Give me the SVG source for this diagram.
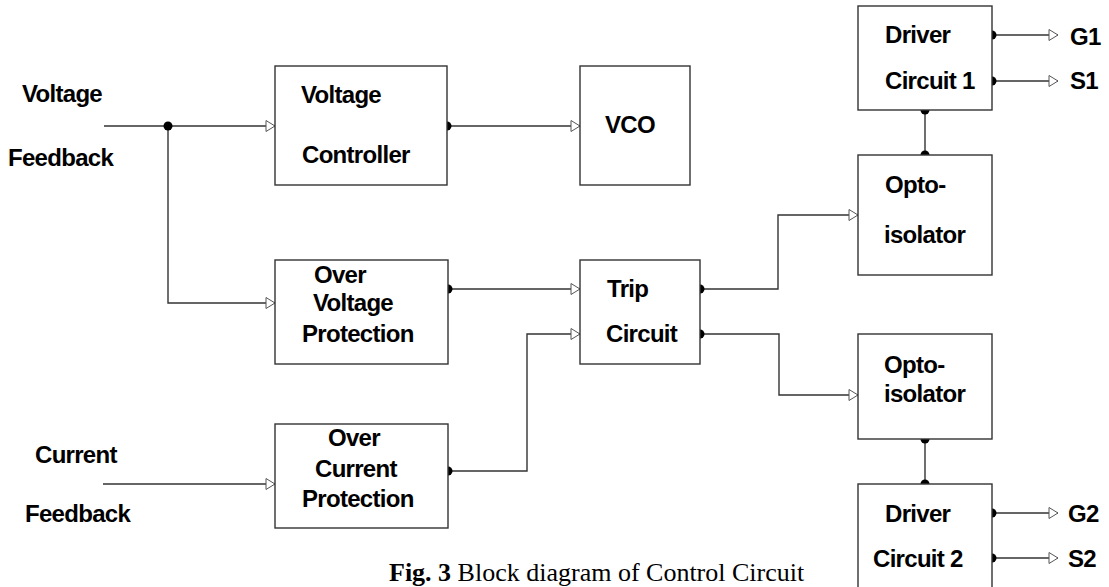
<svg xmlns="http://www.w3.org/2000/svg" width="1109" height="587" viewBox="0 0 1109 587">
<style>
.box{fill:#fff;stroke:#333;stroke-width:1.4}
.w{fill:none;stroke:#333;stroke-width:1.4}
.t{font-family:"Liberation Sans",Arial,sans-serif;font-weight:bold;font-size:24px;fill:#000;letter-spacing:-0.7px}
.d{fill:#000;stroke:none}
.cap{font-family:"Liberation Serif","Times New Roman",serif;font-size:26px;fill:#000}
</style>
<defs>
<marker id="arr" markerWidth="11" markerHeight="13" refX="10" refY="6.5" orient="auto" markerUnits="userSpaceOnUse">
<path d="M1,1 L10,6.5 L1,12 Z" fill="#fff" stroke="#555" stroke-width="1"/>
</marker>
</defs>
<rect width="1109" height="587" fill="#fff"/>
<g id="connectors">
<path class="w" d="M104,126 H275" marker-end="url(#arr)"/>
<path class="w" d="M168,126 V303 H275" marker-end="url(#arr)"/>
<path class="w" d="M103,484 H275" marker-end="url(#arr)"/>
<path class="w" d="M447,126 H580" marker-end="url(#arr)"/>
<path class="w" d="M448,289 H580" marker-end="url(#arr)"/>
<path class="w" d="M448,471 H527 V334 H580" marker-end="url(#arr)"/>
<path class="w" d="M700,289 H778 V215 H858" marker-end="url(#arr)"/>
<path class="w" d="M700,334 H779 V395 H858" marker-end="url(#arr)"/>
<path class="w" d="M925,110 V155"/>
<path class="w" d="M925,439 V484"/>
<path class="w" d="M992,35 H1058" marker-end="url(#arr)"/>
<path class="w" d="M992,81 H1058" marker-end="url(#arr)"/>
<path class="w" d="M992,513 H1058" marker-end="url(#arr)"/>
<path class="w" d="M992,558 H1058" marker-end="url(#arr)"/>
<circle class="d" cx="168" cy="126" r="4.5"/>
<circle class="d" cx="447" cy="126" r="4.5"/>
<circle class="d" cx="448" cy="289" r="4.5"/>
<circle class="d" cx="448" cy="471" r="4.5"/>
<circle class="d" cx="700" cy="289" r="4.5"/>
<circle class="d" cx="700" cy="334" r="4.5"/>
<circle class="d" cx="925" cy="110" r="4.5"/>
<circle class="d" cx="925" cy="155" r="4.5"/>
<circle class="d" cx="925" cy="439" r="4.5"/>
<circle class="d" cx="925" cy="484" r="4.5"/>
<circle class="d" cx="992" cy="35" r="4.5"/>
<circle class="d" cx="992" cy="81" r="4.5"/>
<circle class="d" cx="992" cy="513" r="4.5"/>
<circle class="d" cx="992" cy="558" r="4.5"/>
</g>
<g id="voltage-feedback">
<text class="t" x="22" y="102">Voltage</text>
<text class="t" x="8" y="166">Feedback</text>
</g>
<g id="current-feedback">
<text class="t" x="35" y="463">Current</text>
<text class="t" x="25" y="522">Feedback</text>
</g>
<g id="voltage-controller">
<rect class="box" x="275" y="66" width="172" height="119"/>
<text class="t" x="301" y="103">Voltage</text>
<text class="t" x="302" y="163">Controller</text>
</g>
<g id="vco">
<rect class="box" x="580" y="66" width="110" height="119"/>
<text class="t" x="605" y="133">VCO</text>
</g>
<g id="over-voltage-protection">
<rect class="box" x="275" y="260" width="173" height="104"/>
<text class="t" x="314" y="283">Over</text>
<text class="t" x="313" y="311">Voltage</text>
<text class="t" x="302" y="342">Protection</text>
</g>
<g id="over-current-protection">
<rect class="box" x="275" y="424" width="173" height="104"/>
<text class="t" x="328" y="446">Over</text>
<text class="t" x="315" y="477">Current</text>
<text class="t" x="302" y="507">Protection</text>
</g>
<g id="trip-circuit">
<rect class="box" x="580" y="260" width="120" height="104"/>
<text class="t" x="607" y="297">Trip</text>
<text class="t" x="606" y="342">Circuit</text>
</g>
<g id="driver-circuit-1">
<rect class="box" x="858" y="6" width="134" height="104"/>
<text class="t" x="885" y="43">Driver</text>
<text class="t" x="885" y="89">Circuit 1</text>
</g>
<g id="opto-isolator-1">
<rect class="box" x="858" y="155" width="134" height="120"/>
<text class="t" x="885" y="193">Opto-</text>
<text class="t" x="884" y="243">isolator</text>
</g>
<g id="opto-isolator-2">
<rect class="box" x="858" y="334" width="134" height="105"/>
<text class="t" x="884" y="373">Opto-</text>
<text class="t" x="884" y="402">isolator</text>
</g>
<g id="driver-circuit-2">
<rect class="box" x="858" y="484" width="134" height="120"/>
<text class="t" x="885" y="522">Driver</text>
<text class="t" x="873" y="567">Circuit 2</text>
</g>
<g id="outputs">
<text class="t" x="1070" y="45">G1</text>
<text class="t" x="1070" y="89">S1</text>
<text class="t" x="1068" y="522">G2</text>
<text class="t" x="1068" y="567">S2</text>
</g>
<text class="cap" x="389" y="581"><tspan font-weight="bold">Fig. 3</tspan> Block diagram of Control Circuit</text>
</svg>
